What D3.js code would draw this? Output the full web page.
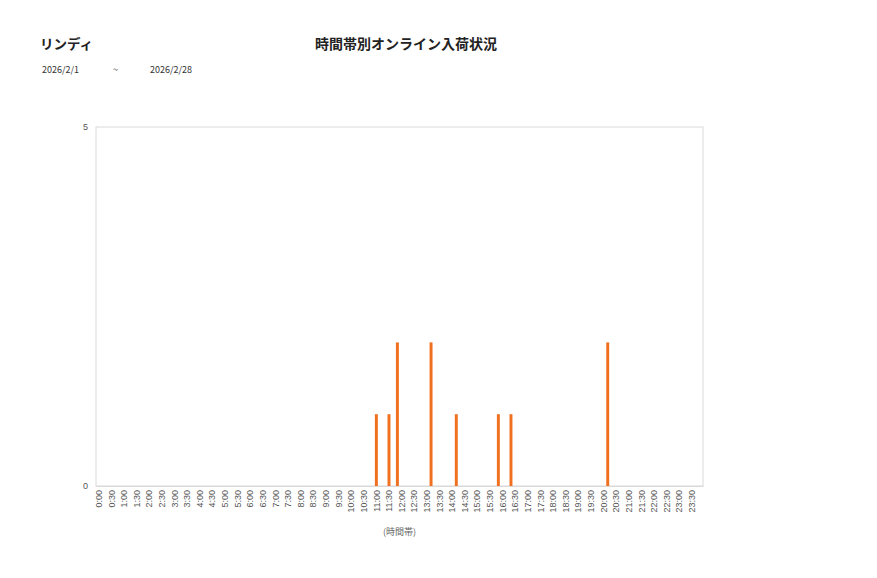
<!DOCTYPE html>
<html>
<head>
<meta charset="utf-8">
<script src="https://cdn.jsdelivr.net/npm/d3@7"></script>
<style>
  body { margin: 0; background: #fff; }
  svg { font-family: "Noto Sans CJK JP", "Noto Sans", sans-serif; }
</style>
</head>
<body>
<svg id="chart"></svg>
<script>
// 10-minute time bins, labels every 30 minutes
const slots = d3.range(0, 24 * 60, 10).map(m => `${Math.floor(m / 60)}:${String(m % 60).padStart(2, "0")}`);
const tickLabels = slots.filter((d, i) => i % 3 === 0);
const arrivalTimes = ["11:00", "11:30", "11:50", "13:10", "14:10", "15:50", "16:20", "20:10"];
const arrivalCounts = [1, 1, 2, 2, 1, 1, 1, 2];
const yTicks = [0, 5];

const width = 877, height = 578;
const margin = { top: 127, right: 174, bottom: 92, left: 96 };
const innerW = width - margin.left - margin.right;
const innerH = height - margin.top - margin.bottom;

const data = slots.map(s => {
  const i = arrivalTimes.indexOf(s);
  return { slot: s, value: i < 0 ? 0 : arrivalCounts[i] };
});

const svg = d3.select("#chart").attr("width", width).attr("height", height);

svg.append("text").attr("x", 40).attr("y", 49)
  .attr("font-size", 13.5).attr("font-weight", 600).attr("fill", "#222")
  .text("リンディ");
svg.append("text").attr("x", 406).attr("y", 49).attr("text-anchor", "middle")
  .attr("font-size", 14).attr("font-weight", 600).attr("fill", "#222")
  .text("時間帯別オンライン入荷状況");
svg.append("text").attr("x", 42).attr("y", 73).attr("font-size", 9).attr("fill", "#333").text("2026/2/1");
svg.append("text").attr("x", 113).attr("y", 73).attr("font-size", 9).attr("fill", "#333").text("~");
svg.append("text").attr("x", 150).attr("y", 73).attr("font-size", 9).attr("fill", "#333").text("2026/2/28");

const x = d3.scaleBand().domain(slots).range([0, innerW]).padding(0.3);
const y = d3.scaleLinear().domain([0, 5]).range([innerH, 0]);

const g = svg.append("g").attr("transform", `translate(${margin.left},${margin.top})`);

g.append("rect").attr("width", innerW).attr("height", innerH)
  .attr("fill", "none").attr("stroke", "#d9d9d9");

g.selectAll(".bar").data(data.filter(d => d.value > 0)).join("rect")
  .attr("class", "bar")
  .attr("x", d => x(d.slot))
  .attr("width", x.bandwidth())
  .attr("y", d => y(d.value))
  .attr("height", d => innerH - y(d.value))
  .attr("fill", "#f07020");

const xAxis = g.append("g").attr("transform", `translate(0,${innerH})`)
  .call(d3.axisBottom(x).tickValues(tickLabels).tickSize(0).tickPadding(4));
xAxis.select(".domain").attr("stroke", "#d9d9d9");
xAxis.selectAll("text")
  .attr("font-size", 9).attr("fill", "#555")
  .attr("transform", "rotate(-90)")
  .attr("text-anchor", "end")
  .attr("x", -4).attr("y", 0).attr("dy", "0.35em");

const yAxis = g.append("g")
  .call(d3.axisLeft(y).tickValues(yTicks).tickFormat(d3.format("d")).tickSize(0).tickPadding(8));
yAxis.select(".domain").remove();
yAxis.selectAll("text").attr("font-size", 9).attr("fill", "#555");

svg.append("text").attr("x", margin.left + innerW / 2).attr("y", 535)
  .attr("text-anchor", "middle").attr("font-size", 9).attr("fill", "#666")
  .text("(時間帯)");
</script>
</body>
</html>
